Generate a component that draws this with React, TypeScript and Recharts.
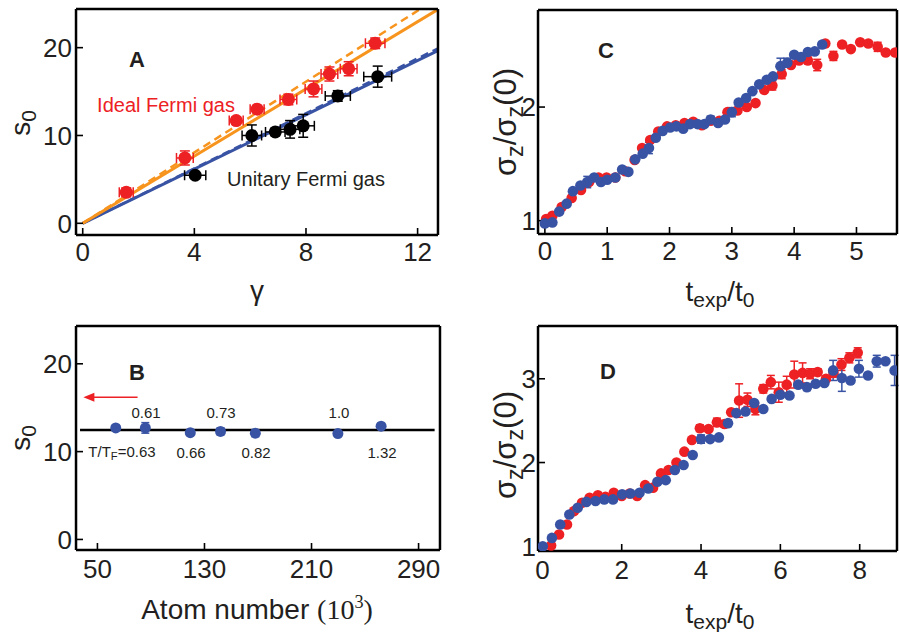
import React from 'react';
import { ComposedChart, Scatter, Line, XAxis, YAxis, ErrorBar } from 'recharts';

const RED = '#ed2024';
const BLUE = '#3953a4';
const ORANGE = '#f7941d';
const INK = '#231f20';
const FONT = '"Liberation Sans", Arial, Helvetica, sans-serif';

// ---- panel A: s0 against gamma
const idealGamma = [1.56, 3.66, 5.5, 6.25, 7.37, 8.27, 8.84, 9.53, 10.48];
const idealS0 = [3.53, 7.44, 11.7, 13.0, 14.1, 15.3, 17.0, 17.6, 20.5];
const idealGammaErr = [0.25, 0.3, 0.25, 0.25, 0.3, 0.3, 0.3, 0.3, 0.35];
const idealS0Err = [0.5, 0.8, 0.4, 0.4, 0.6, 0.9, 0.8, 0.8, 0.6];

const unitaryGamma = [4.03, 6.06, 6.9, 7.43, 7.9, 9.14, 10.57];
const unitaryS0 = [5.47, 10.0, 10.4, 10.7, 11.1, 14.5, 16.7];
const unitaryGammaErr = [0.38, 0.35, 0.35, 0.35, 0.4, 0.45, 0.5];
const unitaryS0Err = [0.3, 1.2, 0.4, 1.0, 1.3, 0.6, 1.2];

// theory lines, end points
const idealSolid = [{ x: 0, y: 0 }, { x: 12.7, y: 24.3 }];
const idealDashed = [{ x: 0, y: 0 }, { x: 12.1, y: 24.4 }];
const unitarySolid = [{ x: 0, y: 0 }, { x: 12.75, y: 19.7 }];
const unitaryDashed = [{ x: 0, y: 0 }, { x: 12.75, y: 19.95 }];

// ---- panel B: s0 against atom number
const atomNumber = [63.7, 85.8, 119.4, 142, 168, 229.7, 262];
const atomS0 = [12.7, 12.7, 12.15, 12.3, 12.1, 12.05, 12.9];
const atomS0Err = [0.3, 0.6, 0.3, 0.4, 0.4, 0.3, 0.3];
const meanLine = [{ x: 37, y: 12.45 }, { x: 302, y: 12.45 }];
const arrowShaft = [{ x: 44, y: 16.2 }, { x: 80, y: 16.2 }];
const arrowTip = [{ x: 39.5, y: 16.2 }];

// ---- panel C
const cRedT = [0.02, 0.12, 0.27, 0.43, 0.58, 0.71, 0.86, 0.99, 1.13, 1.29, 1.44, 1.56, 1.69, 1.82, 1.96, 2.1, 2.24, 2.38, 2.52, 2.66, 2.8, 2.93, 3.09, 3.24, 3.38, 3.52, 3.65, 3.8, 3.95, 4.08, 4.22, 4.37, 4.5, 4.63, 4.77, 4.91, 5.06, 5.19, 5.34, 5.47, 5.62];
const cRedV = [1.015, 1.044, 1.12, 1.2, 1.27, 1.34, 1.38, 1.38, 1.38, 1.435, 1.535, 1.64, 1.71, 1.785, 1.83, 1.84, 1.86, 1.87, 1.84, 1.88, 1.88, 1.955, 1.97, 2.0, 2.035, 2.15, 2.19, 2.29, 2.37, 2.41, 2.41, 2.37, 2.56, 2.45, 2.55, 2.51, 2.57, 2.56, 2.53, 2.48, 2.48];
const cRedErr = [0, 0, 0, 0, 0, 0, 0, 0, 0, 0, 0, 0, 0, 0, 0, 0, 0, 0, 0, 0, 0, 0, 0, 0, 0, 0, 0.04, 0.04, 0, 0, 0.03, 0.05, 0, 0.04, 0, 0, 0, 0, 0.04, 0, 0];
const cBlueT = [0.0, 0.12, 0.23, 0.35, 0.45, 0.57, 0.68, 0.79, 0.9, 1.0, 1.13, 1.24, 1.34, 1.45, 1.57, 1.67, 1.78, 1.89, 2.01, 2.11, 2.22, 2.33, 2.45, 2.56, 2.66, 2.78, 2.89, 3.0, 3.11, 3.23, 3.33, 3.44, 3.56, 3.66, 3.78, 3.89, 4.0, 4.11, 4.22, 4.33, 4.45];
const cBlueV = [0.976, 0.985, 1.08, 1.15, 1.26, 1.31, 1.34, 1.38, 1.34, 1.36, 1.38, 1.45, 1.43, 1.54, 1.59, 1.64, 1.73, 1.79, 1.82, 1.83, 1.81, 1.85, 1.85, 1.85, 1.89, 1.86, 1.89, 1.955, 2.04, 2.08, 2.14, 2.2, 2.24, 2.27, 2.36, 2.39, 2.46, 2.44, 2.485, 2.49, 2.55];
const cBlueErr = [0, 0, 0, 0, 0, 0, 0.05, 0, 0, 0, 0, 0, 0, 0, 0, 0.05, 0, 0, 0, 0, 0, 0, 0, 0, 0.03, 0, 0, 0.04, 0, 0, 0, 0, 0, 0, 0.07, 0.04, 0, 0, 0, 0, 0];

// ---- panel D
const dRedT = [0.22, 0.42, 0.62, 0.8, 1.0, 1.19, 1.4, 1.59, 1.8, 2.0, 2.2, 2.39, 2.59, 2.79, 2.99, 3.18, 3.38, 3.58, 3.77, 3.97, 4.19, 4.4, 4.59, 4.76, 4.96, 5.17, 5.37, 5.57, 5.76, 5.96, 6.16, 6.35, 6.56, 6.75, 6.94, 7.15, 7.34, 7.54, 7.74, 7.95];
const dRedV = [1.01, 1.14, 1.26, 1.42, 1.52, 1.58, 1.61, 1.59, 1.64, 1.6, 1.63, 1.6, 1.73, 1.7, 1.87, 1.91, 2.0, 2.13, 2.27, 2.41, 2.4, 2.48, 2.46, 2.6, 2.74, 2.75, 2.64, 2.88, 2.96, 2.84, 2.93, 3.05, 3.07, 3.06, 3.08, 3.0, 3.07, 3.17, 3.25, 3.31];
const dRedErr = [0, 0, 0, 0, 0, 0, 0, 0, 0, 0, 0, 0, 0, 0, 0, 0, 0, 0, 0, 0.04, 0, 0.05, 0.04, 0, 0.2, 0.08, 0.07, 0.05, 0.08, 0.12, 0.1, 0.16, 0.12, 0.06, 0.04, 0.03, 0.05, 0.07, 0.06, 0.06];
const dBlueT = [0.01, 0.24, 0.45, 0.68, 0.89, 1.11, 1.34, 1.56, 1.78, 2.01, 2.22, 2.45, 2.67, 2.9, 3.11, 3.34, 3.56, 3.79, 4.0, 4.23, 4.45, 4.68, 4.89, 5.12, 5.34, 5.57, 5.78, 6.0, 6.23, 6.45, 6.67, 6.89, 7.11, 7.33, 7.55, 7.77, 7.98, 8.21, 8.43, 8.65, 8.88];
const dBlueV = [1.0, 1.1, 1.26, 1.38, 1.46, 1.53, 1.54, 1.56, 1.56, 1.62, 1.63, 1.64, 1.69, 1.77, 1.79, 1.91, 1.97, 2.09, 2.28, 2.28, 2.3, 2.47, 2.59, 2.61, 2.71, 2.64, 2.76, 2.81, 2.8, 2.93, 2.9, 2.94, 2.95, 3.1, 3.01, 2.98, 3.12, 3.04, 3.21, 3.21, 3.1];
const dBlueErr = [0, 0, 0, 0, 0, 0, 0, 0, 0, 0, 0, 0, 0, 0, 0, 0, 0, 0, 0.05, 0, 0, 0.04, 0, 0, 0, 0, 0, 0, 0, 0, 0.04, 0, 0, 0.12, 0.16, 0, 0.1, 0, 0.07, 0, 0.18];

// ---- ticks
const aXTicks = [0, 4, 8, 12];
const aYTicks = [0, 10, 20];
const bXTicks = [50, 130, 210, 290];
const bYTicks = [0, 10, 20];
const cXTicks = [0, 1, 2, 3, 4, 5];
const cYTicks = [1, 2];
const dXTicks = [0, 2, 4, 6, 8];
const dYTicks = [1, 2, 3];

const steps = (from: number, to: number, step: number) => {
  const out: number[] = [];
  for (let v = from; v <= to + 1e-9; v += step) out.push(Math.round(v * 1000) / 1000);
  return out;
};

const zip = (xs: number[], ys: number[], exs?: number[], eys?: number[]) =>
  xs.map((x, i) => ({ x, y: ys[i], ex: exs ? exs[i] : 0, ey: eys ? eys[i] : 0 }));

const dot = (fill: string, r: number) => (p: any) => <circle cx={p.cx} cy={p.cy} r={r} fill={fill} />;
const arrowHead = (p: any) => <path d={`M${p.cx},${p.cy} l11,-4.5 l0,9 z`} fill={RED} />;

type AxisCfg = { domain: [number, number]; major: number[]; minor: number[]; margin: number };

// axes take (almost) no room, so the chart margin alone sets the frame
const THIN = 0.01;

function boxAxes(x: AxisCfg, y: AxisCfg) {
  const frame = { stroke: '#000', strokeWidth: 2.5 };
  const tl = { stroke: '#000', strokeWidth: 1.6 };
  const txt = { fontSize: 26, fill: INK, fontFamily: FONT };
  return [
    <XAxis key="xb" xAxisId={0} type="number" dataKey="x" domain={x.domain} ticks={x.major} interval={0}
      allowDataOverflow height={THIN} tickSize={-7} tickMargin={x.margin} tick={txt} axisLine={frame} tickLine={tl} />,
    <XAxis key="xbm" xAxisId="bm" type="number" domain={x.domain} ticks={x.minor} interval={0}
      allowDataOverflow height={THIN} tickSize={-4} tick={false} axisLine={false} tickLine={tl} />,
    <XAxis key="xt" xAxisId="t" orientation="top" type="number" domain={x.domain} ticks={x.major} interval={0}
      allowDataOverflow height={THIN} tickSize={-7} tick={false} axisLine={frame} tickLine={tl} />,
    <XAxis key="xtm" xAxisId="tm" orientation="top" type="number" domain={x.domain} ticks={x.minor} interval={0}
      allowDataOverflow height={THIN} tickSize={-4} tick={false} axisLine={false} tickLine={tl} />,
    <YAxis key="yl" yAxisId={0} type="number" dataKey="y" domain={y.domain} ticks={y.major} interval={0}
      allowDataOverflow width={THIN} tickSize={-7} tickMargin={y.margin} tick={txt} axisLine={frame} tickLine={tl} />,
    <YAxis key="ylm" yAxisId="lm" type="number" domain={y.domain} ticks={y.minor} interval={0}
      allowDataOverflow width={THIN} tickSize={-4} tick={false} axisLine={false} tickLine={tl} />,
    <YAxis key="yr" yAxisId="r" orientation="right" type="number" domain={y.domain} ticks={y.major} interval={0}
      allowDataOverflow width={THIN} tickSize={-7} tick={false} axisLine={frame} tickLine={tl} />,
    <YAxis key="yrm" yAxisId="rm" orientation="right" type="number" domain={y.domain} ticks={y.minor} interval={0}
      allowDataOverflow width={THIN} tickSize={-4} tick={false} axisLine={false} tickLine={tl} />,
  ];
}

function Txt(props: { x: number; y: number; size: number; color?: string; bold?: boolean; rotate?: boolean; children: React.ReactNode }) {
  const { x, y, size, color = INK, bold, rotate, children } = props;
  return (
    <div
      style={{
        position: 'absolute', left: x, top: y, fontSize: size, lineHeight: 1, color,
        fontFamily: FONT, fontWeight: bold ? 'bold' : 'normal', whiteSpace: 'nowrap',
        transform: `translate(-50%, -50%)${rotate ? ' rotate(-90deg)' : ''}`,
      }}
    >
      {children}
    </div>
  );
}

const Sub = ({ children }: { children: React.ReactNode }) => (
  <span style={{ fontSize: '0.75em', position: 'relative', top: '0.3em' }}>{children}</span>
);

export default function App() {
  const idealPts = zip(idealGamma, idealS0, idealGammaErr, idealS0Err);
  const unitaryPts = zip(unitaryGamma, unitaryS0, unitaryGammaErr, unitaryS0Err);
  const atomPts = zip(atomNumber, atomS0, undefined, atomS0Err);
  const cRed = zip(cRedT, cRedV, undefined, cRedErr);
  const cBlue = zip(cBlueT, cBlueV, undefined, cBlueErr);
  const dRed = zip(dRedT, dRedV, undefined, dRedErr);
  const dBlue = zip(dBlueT, dBlueV, undefined, dBlueErr);

  return (
    <div style={{ position: 'absolute', left: 0, top: 0, width: 899, height: 632, background: '#fff', overflow: 'hidden' }}>
      {/* A */}
      <div style={{ position: 'absolute', left: 0, top: 0 }}>
        <ComposedChart width={450} height={316} margin={{ top: 9, left: 76, right: 12, bottom: 81 }}>
          {boxAxes(
            { domain: [-0.24, 12.73], major: aXTicks, minor: steps(0, 12, 1), margin: 15 },
            { domain: [-1.33, 24.4], major: aYTicks, minor: steps(0, 22.5, 2.5), margin: 11 },
          )}
          <Line data={unitarySolid} dataKey="y" stroke={BLUE} strokeWidth={3} dot={false} isAnimationActive={false} />
          <Line data={unitaryDashed} dataKey="y" stroke={BLUE} strokeWidth={2.5} strokeDasharray="8 5" dot={false} isAnimationActive={false} />
          <Line data={idealSolid} dataKey="y" stroke={ORANGE} strokeWidth={3} dot={false} isAnimationActive={false} />
          <Line data={idealDashed} dataKey="y" stroke={ORANGE} strokeWidth={2.5} strokeDasharray="8 5" dot={false} isAnimationActive={false} />
          <Scatter data={idealPts} shape={dot(RED, 6.5)} isAnimationActive={false}>
            <ErrorBar dataKey="ey" direction="y" width={5} strokeWidth={1.5} stroke={RED} />
            <ErrorBar dataKey="ex" direction="x" width={5} strokeWidth={1.5} stroke={RED} />
          </Scatter>
          <Scatter data={unitaryPts} shape={dot('#000', 6.5)} isAnimationActive={false}>
            <ErrorBar dataKey="ey" direction="y" width={5} strokeWidth={1.5} stroke="#000" />
            <ErrorBar dataKey="ex" direction="x" width={5} strokeWidth={1.5} stroke="#000" />
          </Scatter>
        </ComposedChart>
      </div>

      {/* B */}
      <div style={{ position: 'absolute', left: 0, top: 316 }}>
        <ComposedChart width={450} height={316} margin={{ top: 10, left: 76, right: 10, bottom: 82 }}>
          {boxAxes(
            { domain: [34, 306], major: bXTicks, minor: steps(50, 290, 20), margin: 17 },
            { domain: [-1.2, 24.3], major: bYTicks, minor: steps(0, 22.5, 2.5), margin: 11 },
          )}
          <Line data={meanLine} dataKey="y" stroke="#000" strokeWidth={2.5} dot={false} isAnimationActive={false} />
          <Line data={arrowShaft} dataKey="y" stroke={RED} strokeWidth={1.5} dot={false} isAnimationActive={false} />
          <Scatter data={arrowTip} shape={arrowHead} isAnimationActive={false} />
          <Scatter data={atomPts} shape={dot(BLUE, 5.5)} isAnimationActive={false}>
            <ErrorBar dataKey="ey" direction="y" width={4} strokeWidth={1.5} stroke={BLUE} />
          </Scatter>
        </ComposedChart>
      </div>

      {/* C */}
      <div style={{ position: 'absolute', left: 450, top: 0 }}>
        <ComposedChart width={449} height={316} margin={{ top: 10, left: 88, right: 2, bottom: 82 }}>
          {boxAxes(
            { domain: [-0.11, 5.65], major: cXTicks, minor: steps(0, 5.6, 0.2), margin: 15 },
            { domain: [0.883, 2.854], major: cYTicks, minor: cYTicks, margin: 9 },
          )}
          <Scatter data={cRed} shape={dot(RED, 5.3)} isAnimationActive={false}>
            <ErrorBar dataKey="ey" direction="y" width={4} strokeWidth={1.5} stroke={RED} />
          </Scatter>
          <Scatter data={cBlue} shape={dot(BLUE, 5.3)} isAnimationActive={false}>
            <ErrorBar dataKey="ey" direction="y" width={4} strokeWidth={1.5} stroke={BLUE} />
          </Scatter>
        </ComposedChart>
      </div>

      {/* D */}
      <div style={{ position: 'absolute', left: 450, top: 316 }}>
        <ComposedChart width={449} height={316} margin={{ top: 10, left: 88, right: 2, bottom: 81 }}>
          {boxAxes(
            { domain: [-0.11, 8.94], major: dXTicks, minor: steps(0, 8.5, 0.5), margin: 17 },
            { domain: [0.944, 3.63], major: dYTicks, minor: dYTicks, margin: 9 },
          )}
          <Scatter data={dRed} shape={dot(RED, 5.3)} isAnimationActive={false}>
            <ErrorBar dataKey="ey" direction="y" width={4} strokeWidth={1.5} stroke={RED} />
          </Scatter>
          <Scatter data={dBlue} shape={dot(BLUE, 5.3)} isAnimationActive={false}>
            <ErrorBar dataKey="ey" direction="y" width={4} strokeWidth={1.5} stroke={BLUE} />
          </Scatter>
        </ComposedChart>
      </div>

      {/* axis titles */}
      <Txt x={21} y={123} size={28} rotate>s<Sub>0</Sub></Txt>
      <Txt x={257} y={291} size={28}>γ</Txt>
      <Txt x={21} y={438} size={28} rotate>s<Sub>0</Sub></Txt>
      <Txt x={257} y={610} size={28}>
        Atom number <span style={{ fontFamily: '"Liberation Serif", serif' }}>(10<span style={{ fontSize: '0.65em', position: 'relative', top: '-0.6em' }}>3</span>)</span>
      </Txt>
      <Txt x={505} y={122} size={31} rotate>σ<Sub>z</Sub>/σ<Sub>z</Sub>(0)</Txt>
      <Txt x={720} y={292} size={28}>t<Sub>exp</Sub>/t<Sub>0</Sub></Txt>
      <Txt x={505} y={445} size={31} rotate>σ<Sub>z</Sub>/σ<Sub>z</Sub>(0)</Txt>
      <Txt x={720} y={614} size={28}>t<Sub>exp</Sub>/t<Sub>0</Sub></Txt>

      {/* panel letters and notes */}
      <Txt x={137} y={60} size={22} bold>A</Txt>
      <Txt x={137} y={373} size={22} bold>B</Txt>
      <Txt x={606} y={51} size={22} bold>C</Txt>
      <Txt x={608} y={372} size={22} bold>D</Txt>
      <Txt x={166} y={105} size={20} color={RED}>Ideal Fermi gas</Txt>
      <Txt x={306} y={179} size={20}>Unitary Fermi gas</Txt>

      <Txt x={146} y={412} size={15}>0.61</Txt>
      <Txt x={221} y={412} size={15}>0.73</Txt>
      <Txt x={339} y={412} size={15}>1.0</Txt>
      <Txt x={122} y={452} size={15}>T/T<Sub>F</Sub>=0.63</Txt>
      <Txt x={191} y={452} size={15}>0.66</Txt>
      <Txt x={256} y={452} size={15}>0.82</Txt>
      <Txt x={382} y={452} size={15}>1.32</Txt>
    </div>
  );
}
